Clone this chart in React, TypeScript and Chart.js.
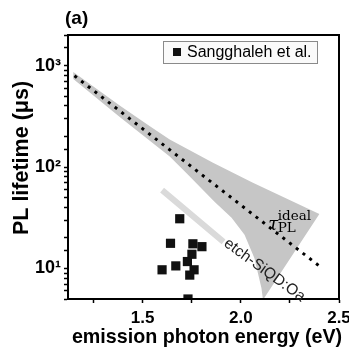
import React, { useEffect, useRef } from 'react';
import { Chart, registerables } from 'chart.js';

Chart.register(...registerables);

// Sangghaleh et al. measured points
const sangghalehEnergy = [1.689, 1.642, 1.756, 1.802, 1.751, 1.728, 1.669, 1.599, 1.762, 1.740, 1.731];
const sangghalehLifetime = [30.9, 17.7, 17.5, 16.4, 13.8, 11.7, 10.6, 9.7, 9.7, 8.6, 5.0];

// ideal PL lifetime trend (dotted line)
const idealEnergy = [1.153, 2.399];
const idealLifetime = [793, 10.6];

// uncertainty region around ideal lifetime (closed outline)
const bandEnergy = [1.147, 1.385, 1.537, 1.638, 1.740, 1.856, 2.059, 2.40, 2.113, 2.105, 2.069, 2.019, 1.953, 1.866, 1.730, 1.638, 1.385, 1.147];
const bandLifetime = [862, 402, 252, 187, 146, 111, 70.2, 34.5, 4.9, 6.41, 12.7, 21.5, 31.6, 45.5, 84.3, 127, 309, 735];

// etch-SiQD:Oa light band
const etchEnergy = [1.599, 1.912];
const etchLifetime = [59.2, 18.3];

// axes
const xTickPositions = [1.25, 1.5, 1.75, 2.0, 2.25, 2.5];
const xTickValues = [1.5, 2.0, 2.5];
const xTickLabels = ['1.5', '2.0', '2.5'];
const yTickValues = [10, 100, 1000];
const yTickLabels = ['10¹', '10²', '10³'];

const panelLabel = '(a)';
const xTitle = 'emission photon energy (eV)';
const yTitle = 'PL lifetime (μs)';
const legendLabel = 'Sangghaleh et al.';
const etchLabel = 'etch-SiQD:Oa';

const FONT = '"Liberation Sans", Arial, sans-serif';
const SERIF = '"DejaVu Serif", serif';

const toXY = (xs: number[], ys: number[]) => xs.map((x, i) => ({ x, y: ys[i] }));

const decorPlugin = {
  id: 'decor',
  afterDraw(chart: any) {
    const { ctx, chartArea: a, scales } = chart;
    const xs = scales.x;
    const ys = scales.y;
    ctx.save();
    // frame
    ctx.strokeStyle = '#000';
    ctx.lineWidth = 2;
    ctx.strokeRect(a.left, a.top, a.right - a.left, a.bottom - a.top);

    ctx.fillStyle = '#000';
    // panel label
    ctx.font = `bold 19px ${FONT}`;
    ctx.textAlign = 'left';
    ctx.textBaseline = 'middle';
    ctx.fillText(panelLabel, a.left - 3, 19);

    // x title
    ctx.font = `bold 19.7px ${FONT}`;
    ctx.textAlign = 'center';
    ctx.textBaseline = 'middle';
    ctx.fillText(xTitle, (a.left + a.right) / 2 + 3.5, 338);

    // y title
    ctx.save();
    ctx.translate(22, (a.top + a.bottom) / 2 - 9);
    ctx.rotate(-Math.PI / 2);
    ctx.font = `bold 21.5px ${FONT}`;
    ctx.fillText(yTitle, 0, 0);
    ctx.restore();

    // legend
    const bw = 155, bh = 23;
    const bx = a.right - 21 - bw, by = a.top + 6;
    ctx.fillStyle = '#fafafa';
    ctx.fillRect(bx, by, bw, bh);
    ctx.strokeStyle = '#8a8a8a';
    ctx.lineWidth = 1;
    ctx.strokeRect(bx + 0.5, by + 0.5, bw - 1, bh - 1);
    ctx.fillStyle = '#111';
    ctx.fillRect(bx + 10, by + 7, 8, 8);
    ctx.fillStyle = '#000';
    ctx.font = `16px ${FONT}`;
    ctx.textAlign = 'left';
    ctx.textBaseline = 'middle';
    ctx.fillText(legendLabel, bx + 24, by + bh / 2 + 0.5);

    // tau ideal PL annotation
    const tx = xs.getPixelForValue(2.1446);
    const ty = ys.getPixelForValue(24.05);
    ctx.textBaseline = 'alphabetic';
    ctx.font = `italic 18px ${SERIF}`;
    ctx.fillText('τ', tx - 1, ty);
    ctx.font = `13.5px ${SERIF}`;
    ctx.fillText('ideal', tx + 8.5, ty - 9.5);
    ctx.fillText('PL', tx + 8.5, ty + 2);

    // etch label
    const ex = xs.getPixelForValue(1.912);
    const ey = ys.getPixelForValue(18.3);
    ctx.save();
    ctx.translate(ex + 2, ey);
    ctx.rotate((36 * Math.PI) / 180);
    ctx.font = `15.5px ${FONT}`;
    ctx.fillStyle = '#222';
    ctx.textBaseline = 'middle';
    ctx.fillText(etchLabel, 0, 0);
    ctx.restore();

    ctx.restore();
  },
};

export default function App() {
  const ref = useRef<HTMLCanvasElement | null>(null);
  useEffect(() => {
    if (!ref.current) return;
    const chart = new Chart(ref.current, {
      type: 'scatter',
      data: {
        datasets: [
          {
            type: 'scatter',
            label: legendLabel,
            data: toXY(sangghalehEnergy, sangghalehLifetime),
            pointStyle: 'rect',
            pointRadius: 6.5,
            pointBackgroundColor: '#111',
            pointBorderColor: '#111',
            pointBorderWidth: 0,
            clip: 1,
          } as any,
          {
            type: 'line',
            label: 'ideal',
            data: toXY(idealEnergy, idealLifetime),
            borderColor: '#000',
            borderWidth: 3,
            borderDash: [3, 5.5],
            borderCapStyle: 'butt',
            pointRadius: 0,
            tension: 0,
            fill: false,
          },
          {
            type: 'line',
            label: 'etch',
            data: toXY(etchEnergy, etchLifetime),
            borderColor: '#dadada',
            borderWidth: 6,
            borderCapStyle: 'butt',
            pointRadius: 0,
            tension: 0,
            fill: false,
          },
          {
            type: 'line',
            label: 'band',
            data: toXY(bandEnergy, bandLifetime),
            borderColor: 'rgba(0,0,0,0)',
            borderWidth: 0,
            backgroundColor: '#c6c6c6',
            pointRadius: 0,
            tension: 0,
            fill: 'shape',
          },
        ],
      },
      options: {
        animation: false,
        responsive: false,
        devicePixelRatio: 1,
        layout: { padding: { top: 35, right: 10, bottom: 0, left: 0 } },
        plugins: { legend: { display: false }, tooltip: { enabled: false } },
        scales: {
          x: {
            type: 'linear',
            min: 1.12,
            max: 2.5,
            bounds: 'data',
            afterBuildTicks: (s: any) => { s.ticks = xTickPositions.map((v) => ({ value: v })); },
            afterFit: (s: any) => { s.height = 55; s.paddingLeft = 0; s.paddingRight = 0; },
            border: { display: true, color: '#000', width: 2 },
            grid: { display: true, drawOnChartArea: false, drawTicks: true, tickLength: 4, tickColor: '#000', tickWidth: 1.5 },
            ticks: {
              autoSkip: false,
              maxRotation: 0,
              padding: 5,
              color: '#000',
              font: { family: FONT, size: 17, weight: 'bold' },
              callback: (v: any) => {
                const i = xTickValues.findIndex((t) => Math.abs(t - Number(v)) < 1e-6);
                return i >= 0 ? xTickLabels[i] : '';
              },
            },
          },
          y: {
            type: 'logarithmic',
            min: 5,
            max: 2000,
            bounds: 'data',
            afterFit: (s: any) => { s.width = 68; s.paddingTop = 0; s.paddingBottom = 0; },
            border: { display: true, color: '#000', width: 2 },
            grid: { display: true, drawOnChartArea: false, drawTicks: true, tickLength: 4, tickColor: '#000', tickWidth: 1.5 },
            ticks: {
              autoSkip: false,
              padding: 3,
              color: '#000',
              font: { family: FONT, size: 18, weight: 'bold' },
              callback: (v: any) => {
                const i = yTickValues.findIndex((t) => Math.abs(t - Number(v)) < 1e-6);
                return i >= 0 ? yTickLabels[i] : '';
              },
            },
          },
        },
      },
      plugins: [decorPlugin],
    } as any);
    return () => chart.destroy();
  }, []);
  return (
    <div style={{ position: 'fixed', left: 0, top: 0, width: 349, height: 354, background: '#fff' }}>
      <canvas ref={ref} width={349} height={354} />
    </div>
  );
}
